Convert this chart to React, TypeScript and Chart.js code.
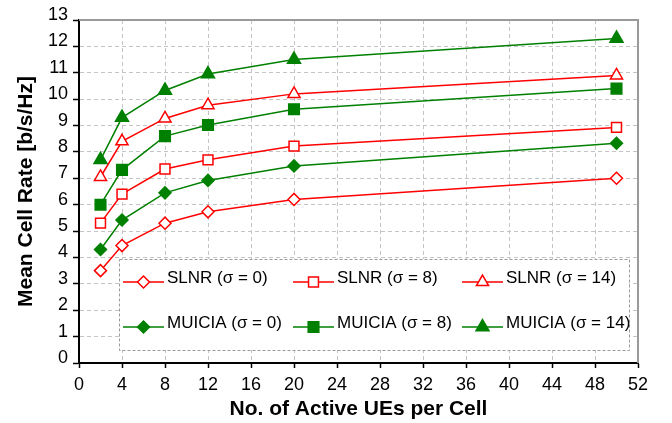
import React, { useEffect, useRef } from 'react';
import { Chart, registerables } from 'chart.js';

Chart.register(...registerables);

// ---- Data ----
const activeUEs = [2, 4, 8, 12, 20, 50];
const slnrSigma0 = [3.5, 4.45, 5.3, 5.73, 6.2, 7.0];
const slnrSigma8 = [5.3, 6.4, 7.35, 7.7, 8.22, 8.93];
const slnrSigma14 = [7.05, 8.4, 9.27, 9.77, 10.2, 10.9];
const muiciaSigma0 = [4.3, 5.42, 6.45, 6.92, 7.47, 8.33];
const muiciaSigma8 = [6.0, 7.32, 8.6, 9.02, 9.62, 10.4];
const muiciaSigma14 = [7.7, 9.3, 10.33, 10.95, 11.5, 12.3];

const seriesLabels = [
  'SLNR (σ = 0)',
  'SLNR (σ = 8)',
  'SLNR (σ = 14)',
  'MUICIA (σ = 0)',
  'MUICIA (σ = 8)',
  'MUICIA (σ = 14)',
];
const seriesValues = [slnrSigma0, slnrSigma8, slnrSigma14, muiciaSigma0, muiciaSigma8, muiciaSigma14];

const xMin = 0;
const xMax = 52;
const xStep = 4;
const yMin = 0;
const yMax = 13;
const yStep = 1;

const xTitle = 'No. of Active UEs per Cell';
const yTitle = 'Mean Cell Rate [b/s/Hz]';

// ---- Styles ----
const RED = '#ff0000';
const GREEN = '#008000';
const FONT = "'Liberation Sans', Arial, sans-serif";

const styles = [
  { color: RED, shape: 'rectRot', fill: '#ffffff', radius: 6 },
  { color: RED, shape: 'rect', fill: '#ffffff', radius: 7 },
  { color: RED, shape: 'triangle', fill: '#ffffff', radius: 7 },
  { color: GREEN, shape: 'rectRot', fill: GREEN, radius: 6 },
  { color: GREEN, shape: 'rect', fill: GREEN, radius: 7.5 },
  { color: GREEN, shape: 'triangle', fill: GREEN, radius: 7.5 },
];

function drawMarker(ctx: CanvasRenderingContext2D, shape: string, x: number, y: number, r: number, fill: string, stroke: string) {
  ctx.save();
  ctx.beginPath();
  if (shape === 'rectRot') {
    ctx.moveTo(x, y - r);
    ctx.lineTo(x + r, y);
    ctx.lineTo(x, y + r);
    ctx.lineTo(x - r, y);
    ctx.closePath();
  } else if (shape === 'rect') {
    const s = r * Math.SQRT1_2;
    ctx.rect(x - s, y - s, 2 * s, 2 * s);
  } else {
    const e = r * Math.sqrt(3);
    ctx.moveTo(x, y - r);
    ctx.lineTo(x + e / 2, y + r / 2);
    ctx.lineTo(x - e / 2, y + r / 2);
    ctx.closePath();
  }
  ctx.fillStyle = fill;
  ctx.fill();
  ctx.strokeStyle = stroke;
  ctx.lineWidth = 1.5;
  ctx.stroke();
  ctx.restore();
}

const frameAndLegend = {
  id: 'frameAndLegend',
  afterDraw(chart: any) {
    const ctx: CanvasRenderingContext2D = chart.ctx;
    const a = chart.chartArea;
    // top & right frame
    ctx.save();
    ctx.strokeStyle = '#9a9a9a';
    ctx.lineWidth = 2;
    ctx.beginPath();
    ctx.moveTo(a.left, a.top);
    ctx.lineTo(a.right, a.top);
    ctx.lineTo(a.right, a.bottom);
    ctx.stroke();
    ctx.restore();

    // legend box
    const bx = a.left + 40;
    const by = a.top + 239;
    const bw = 510;
    const bh = 91;
    ctx.save();
    ctx.fillStyle = '#ffffff';
    ctx.fillRect(bx, by, bw, bh);
    ctx.strokeStyle = '#9a9a9a';
    ctx.lineWidth = 1;
    ctx.setLineDash([3, 2]);
    ctx.strokeRect(bx + 0.5, by + 0.5, bw, bh);
    ctx.restore();

    const colX = [bx + 4, bx + 174, bx + 343];
    const rowY = [by + 23, by + 68];
    const ds = chart.data.datasets;
    ctx.save();
    ctx.font = `17px ${FONT}`;
    ctx.textBaseline = 'middle';
    ctx.fillStyle = '#000';
    for (let i = 0; i < ds.length; i++) {
      const col = i % 3;
      const row = Math.floor(i / 3);
      const x0 = colX[col];
      const y0 = rowY[row];
      const st = styles[i];
      ctx.strokeStyle = st.color;
      ctx.lineWidth = 1.5;
      ctx.beginPath();
      ctx.moveTo(x0, y0);
      ctx.lineTo(x0 + 41, y0);
      ctx.stroke();
      drawMarker(ctx, st.shape, x0 + 20.5, y0, st.radius, st.fill, st.color);
      ctx.fillStyle = '#000';
      ctx.fillText(ds[i].label, x0 + 44, y0 - 4);
    }
    ctx.restore();
  },
};

export default function App() {
  const ref = useRef<HTMLCanvasElement | null>(null);

  useEffect(() => {
    document.body.style.margin = '0';
    const canvas = ref.current;
    if (!canvas) return;
    const datasets = seriesLabels.map((label, i) => ({
      label,
      data: activeUEs.map((x, j) => ({ x, y: seriesValues[i][j] })),
      borderColor: styles[i].color,
      backgroundColor: styles[i].fill,
      pointBackgroundColor: styles[i].fill,
      pointBorderColor: styles[i].color,
      pointStyle: styles[i].shape,
      pointRadius: styles[i].radius,
      pointBorderWidth: 1.5,
      borderWidth: 1.5,
      tension: 0,
      fill: false,
    }));

    const chart = new Chart(canvas, {
      type: 'line',
      data: { datasets },
      options: {
        animation: false,
        responsive: false,
        maintainAspectRatio: false,
        devicePixelRatio: 1,
        layout: { padding: { left: 0, top: 20, right: 34, bottom: 0 } },
        plugins: {
          legend: { display: false },
          tooltip: { enabled: false },
        },
        scales: {
          x: {
            type: 'linear',
            min: xMin,
            max: xMax,
            ticks: {
              stepSize: xStep,
              color: '#000',
              font: { family: FONT, size: 18 },
              padding: 6,
              maxRotation: 0,
              autoSkip: false,
            },
            grid: {
              color: '#c4c4c4',
              lineWidth: 1,
              tickLength: 5,
              tickColor: '#000',
              tickWidth: 1.5,
            },
            border: { display: true, color: '#000', width: 2, dash: [4, 3] },
            title: {
              display: true,
              text: xTitle,
              color: '#000',
              font: { family: FONT, size: 21, weight: 'bold' },
              padding: { top: 0, bottom: 1 },
            },
            afterFit: (scale: any) => {
              scale.height = 60;
            },
          },
          y: {
            type: 'linear',
            min: yMin,
            max: yMax,
            ticks: {
              stepSize: yStep,
              color: '#000',
              font: { family: FONT, size: 18 },
              padding: 5,
              labelOffset: -5,
            },
            grid: {
              color: '#c4c4c4',
              lineWidth: 1,
              tickLength: 6,
              tickColor: '#000',
              tickWidth: 1.5,
            },
            border: { display: true, color: '#000', width: 2, dash: [4, 3] },
            title: {
              display: true,
              text: yTitle,
              color: '#000',
              font: { family: FONT, size: 21, weight: 'bold' },
              padding: { top: 14, bottom: 0 },
            },
            afterFit: (scale: any) => {
              scale.width = 79;
            },
          },
        },
      } as any,
      plugins: [frameAndLegend],
    });
    return () => chart.destroy();
  }, []);

  return (
    <div style={{ width: 672, height: 423 }}>
      <canvas ref={ref} width={672} height={423} style={{ display: 'block', width: 672, height: 423 }} />
    </div>
  );
}
